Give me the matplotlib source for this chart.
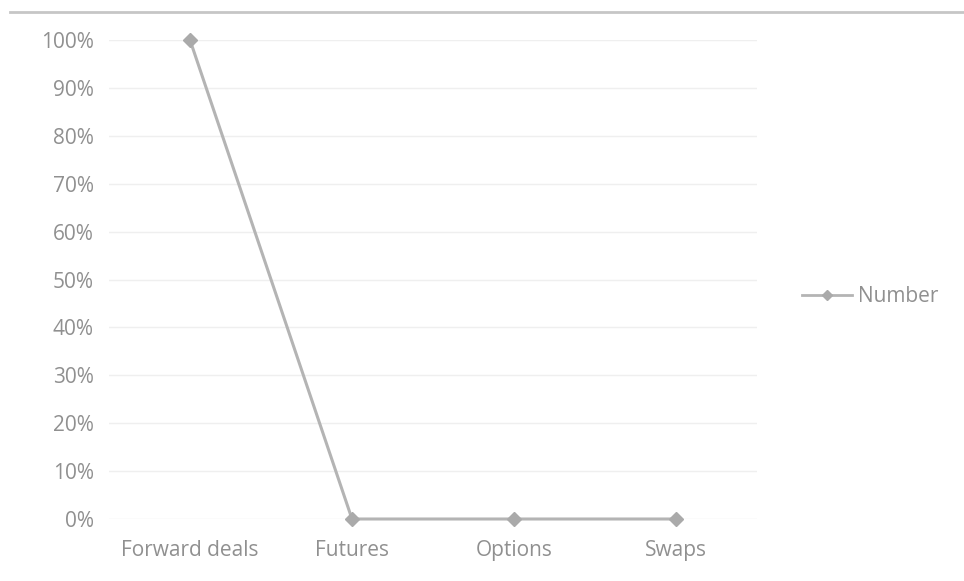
import matplotlib
matplotlib.use("Agg")
import matplotlib.pyplot as plt
from matplotlib.lines import Line2D
from matplotlib.ticker import PercentFormatter

categories = ["Forward deals", "Futures", "Options", "Swaps"]
number_share = [1.00, 0.0, 0.0, 0.0]
y_ticks = [i / 10 for i in range(11)]

plt.rcParams["font.family"] = ["Open Sans", "DejaVu Sans"]

fig = plt.figure(figsize=(9.64, 5.81), dpi=100)
fig.patch.set_facecolor("white")

W, H = 964, 581
ax = fig.add_axes([109 / W, 62 / H, 648 / W, 479 / H])
ax.set_facecolor("white")

x = list(range(len(categories)))
ax.plot(x, number_share, color="#b4b4b4", linewidth=2.2, marker="D",
        markersize=7, markerfacecolor="#aaaaaa", markeredgecolor="#aaaaaa",
        label="Number", zorder=3, clip_on=False)

ax.set_xlim(-0.5, len(categories) - 0.5)
ax.set_ylim(0, 1)
ax.set_yticks(y_ticks)
ax.yaxis.set_major_formatter(PercentFormatter(1.0, decimals=0))
ax.set_xticks(x)
ax.set_xticklabels(categories)

ax.grid(axis="y", color="#efefef", linewidth=1)
ax.set_axisbelow(True)
for s in ax.spines.values():
    s.set_visible(False)
ax.tick_params(axis="both", length=0, colors="#909090", labelsize=15)
ax.tick_params(axis="x", pad=15)
ax.tick_params(axis="y", pad=11)

# chart frame line across the top
fig.add_artist(Line2D([10 / W, 1.0], [1 - 12 / H, 1 - 12 / H],
                      color="#c6c6c6", linewidth=2, transform=fig.transFigure))

leg = fig.legend(handles=[Line2D([], [], color="#b4b4b4", linewidth=2,
                                 marker="D", markersize=5,
                                 markerfacecolor="#aaaaaa",
                                 markeredgecolor="#aaaaaa")],
                 labels=["Number"], loc="center left",
                 bbox_to_anchor=(783 / W, 1 - 297 / H), frameon=False,
                 fontsize=15, handlelength=2.4, handletextpad=0.3)
for t in leg.get_texts():
    t.set_color("#909090")

fig.savefig("out.png", dpi=100, facecolor="white")
